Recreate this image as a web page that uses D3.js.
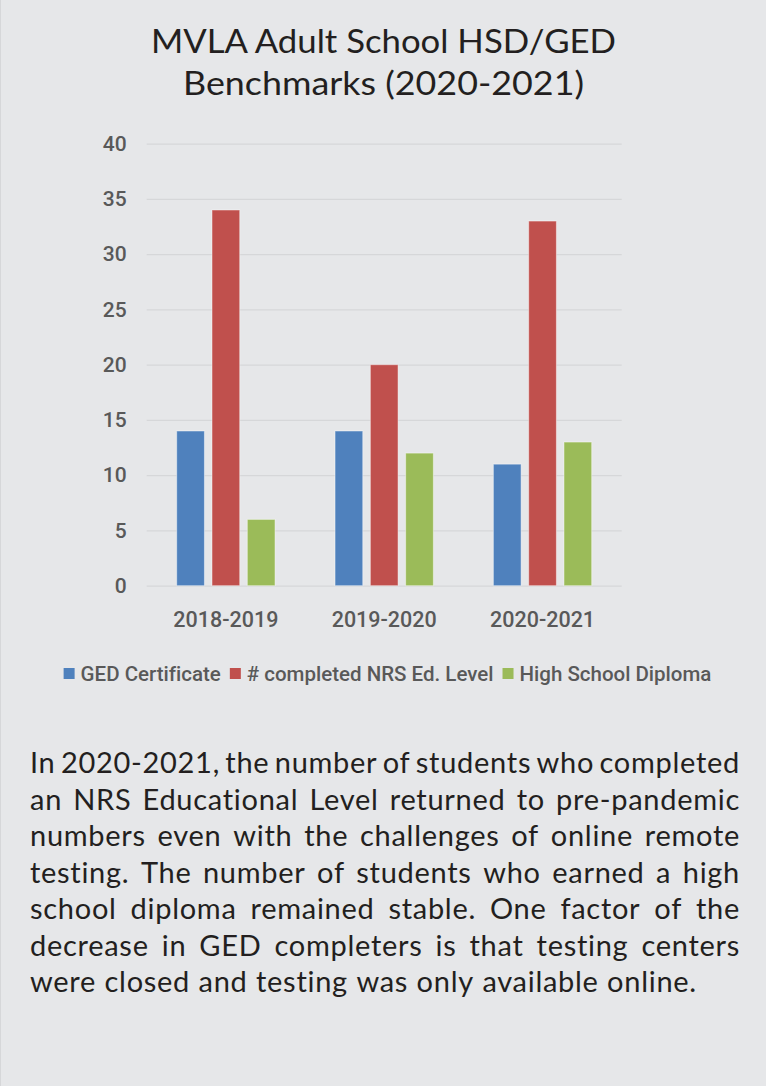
<!DOCTYPE html>
<html>
<head>
<meta charset="utf-8">
<script src="https://cdnjs.cloudflare.com/ajax/libs/d3/7.8.5/d3.min.js"></script>
<style>
  html, body { margin: 0; padding: 0; background: #e6e7e9; }
  svg { display: block; }
  text { font-variant-ligatures: none; }
</style>
</head>
<body>
<div id="chart-area"></div>
<script>
// data
var categories = ["2018-2019", "2019-2020", "2020-2021"];
var seriesNames = ["GED Certificate", "# completed NRS Ed. Level", "High School Diploma"];
var gedValues = [14, 14, 11];
var nrsValues = [34, 20, 33];
var hsdValues = [6, 12, 13];
var yTickValues = [0, 5, 10, 15, 20, 25, 30, 35, 40];
var titleLines = ["MVLA Adult School HSD/GED", "Benchmarks (2020-2021)"];
var noteLines = [
  "In 2020-2021, the number of students who completed",
  "an NRS Educational Level returned to pre-pandemic",
  "numbers even with the challenges of online remote",
  "testing. The number of students who earned a high",
  "school diploma remained stable. One factor of the",
  "decrease in GED completers is that testing centers",
  "were closed and testing was only available online."
];

var colors = ["#4f81bd", "#c0504d", "#9bbb59"];
var W = 766, H = 1086;
var plot = {left: 146.7, right: 621.7, top: 143.7, bottom: 585.7};

var svg = d3.select("#chart-area").append("svg")
  .attr("width", W).attr("height", H);

svg.append("rect").attr("width", W).attr("height", H).attr("fill", "#e6e7e9");
svg.append("line").attr("x1", 0.5).attr("x2", 0.5).attr("y1", 0).attr("y2", H)
  .attr("stroke", "#d6d7d9").attr("stroke-width", 1);

// title
var titleFont = "Lato, 'Noto Sans', sans-serif";
var titleWidths = [465, 401];
titleLines.forEach(function(t, i) {
  svg.append("text")
    .attr("x", 383.5).attr("y", 53 + i * 41.5)
    .attr("text-anchor", "middle")
    .style("font-family", titleFont).style("font-size", "33px")
    .attr("fill", "#231f20")
    .attr("textLength", titleWidths[i]).attr("lengthAdjust", "spacingAndGlyphs")
    .text(t);
});

// scales
var x0 = d3.scaleBand().domain(categories).range([plot.left, plot.right]).padding(0);
var groupW = x0.bandwidth() * 0.621;
var x1 = d3.scaleBand().domain(d3.range(3)).range([-groupW / 2, groupW / 2])
  .paddingInner(0.215).paddingOuter(0);
var y = d3.scaleLinear().domain([0, 40]).range([plot.bottom, plot.top]);

var axisFont = "Roboto, 'Liberation Sans', sans-serif";

// gridlines + y axis
var yAxis = d3.axisLeft(y).tickValues(yTickValues).tickSize(-(plot.right - plot.left)).tickPadding(20);
var yg = svg.append("g").attr("transform", "translate(" + plot.left + ",0)").call(yAxis);
yg.select(".domain").remove();
yg.selectAll(".tick line").attr("stroke", "#d6d7d9").attr("stroke-width", 1.3);
yg.selectAll(".tick text")
  .style("font-family", axisFont).style("font-size", "21px").style("font-weight", 500)
  .attr("fill", "#595959");

// x axis labels
var xAxis = d3.axisBottom(x0).tickSize(0).tickPadding(26);
var xg = svg.append("g").attr("transform", "translate(0," + plot.bottom + ")").call(xAxis);
xg.select(".domain").remove();
xg.selectAll(".tick text")
  .style("font-family", axisFont).style("font-size", "21.5px").style("font-weight", 500)
  .attr("fill", "#595959");

// bars
var rows = categories.map(function(c, i) {
  return {cat: c, vals: [gedValues[i], nrsValues[i], hsdValues[i]]};
});
var groups = svg.selectAll(".grp").data(rows).enter().append("g")
  .attr("class", "grp")
  .attr("transform", function(d) { return "translate(" + (x0(d.cat) + x0.bandwidth() / 2) + ",0)"; });
groups.selectAll("rect").data(function(d) { return d.vals; }).enter().append("rect")
  .attr("x", function(d, i) { return x1(i); })
  .attr("width", x1.bandwidth())
  .attr("y", function(d) { return y(d); })
  .attr("height", function(d) { return y(0) - y(d); })
  .attr("fill", function(d, i) { return colors[i]; })
  .attr("stroke", "rgba(255,255,255,0.45)").attr("stroke-width", 1);

// legend
var legend = svg.append("g");
var lx = 0;
var sw = 11, gapAfterSwatch = 6, gapAfterText = 9;
seriesNames.forEach(function(n, i) {
  legend.append("rect").attr("x", lx).attr("y", -13).attr("width", sw).attr("height", sw)
    .attr("fill", colors[i]);
  var t = legend.append("text").attr("x", lx + sw + gapAfterSwatch).attr("y", 0)
    .style("font-family", axisFont).style("font-size", "20.5px").style("font-weight", 500)
    .attr("fill", "#595959").text(n);
  lx += sw + gapAfterSwatch + t.node().getComputedTextLength() + gapAfterText;
});
lx -= gapAfterText;
legend.attr("transform", "translate(" + (387.5 - lx / 2) + ",681)");

// paragraph, justified word by word
var noteFont = "Lato, 'Noto Sans', sans-serif";
var noteLeft = 30, noteRight = 740, lastLineRight = 693;
var noteSize = 29;
// letter spacing chosen so the unjustified last line ends where it does in the picture
var probe = svg.append("text").style("font-family", noteFont).style("font-size", noteSize + "px")
  .text(noteLines[noteLines.length - 1]);
var probeW = probe.node().getComputedTextLength();
probe.remove();
var nChars = noteLines[noteLines.length - 1].length;
var letterSp = Math.max(0, (lastLineRight - noteLeft - probeW) / nChars);

noteLines.forEach(function(line, li) {
  var by = 773 + li * 36.5;
  var words = line.split(" ");
  var g = svg.append("g");
  var nodes = words.map(function(w) {
    return g.append("text").attr("y", by)
      .style("font-family", noteFont).style("font-size", noteSize + "px")
      .style("letter-spacing", letterSp + "px")
      .attr("fill", "#231f20").text(w);
  });
  var widths = nodes.map(function(n) { return n.node().getComputedTextLength(); });
  var total = d3.sum(widths);
  var last = li === noteLines.length - 1;
  var gap = last ? 8.5 : (noteRight - noteLeft - total) / (words.length - 1);
  if (!last && gap < 5) {
    // too long: squeeze the line slightly
    var k = (noteRight - noteLeft - 5 * (words.length - 1)) / total;
    widths = widths.map(function(w, i) {
      nodes[i].attr("textLength", w * k).attr("lengthAdjust", "spacingAndGlyphs");
      return w * k;
    });
    gap = 5;
  }
  var xx = noteLeft;
  nodes.forEach(function(n, i) {
    n.attr("x", xx);
    xx += widths[i] + gap;
  });
});
</script>
</body>
</html>
